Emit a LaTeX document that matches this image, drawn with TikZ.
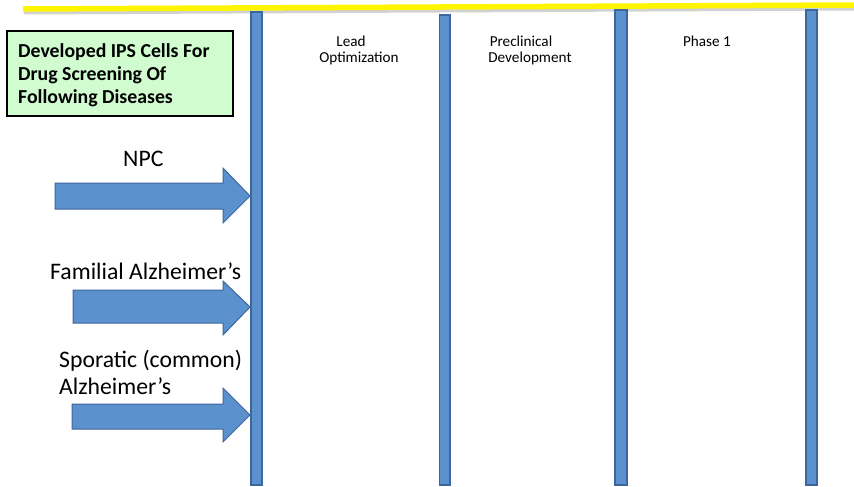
\documentclass[tikz,border=0pt]{standalone}
\usepackage{fontspec}
\setmainfont{Carlito}
\definecolor{barfill}{RGB}{91,145,204}
\definecolor{barline}{RGB}{62,102,158}
\definecolor{boxgreen}{RGB}{208,252,208}
\definecolor{hl}{RGB}{255,245,0}
\begin{document}
\begin{tikzpicture}[x=1pt,y=-1pt,
  bar/.style={fill=barfill,draw=barline,line width=1.2pt},
  blockarrow/.style={fill=barfill,draw=barline,line width=1pt,line join=miter},
  phase/.style={anchor=base,inner sep=0pt,font=\fontsize{15.2}{18}\selectfont},
  disease/.style={anchor=base west,inner sep=0pt,font=\fontsize{23.7}{28}\selectfont}]
\useasboundingbox (0,0) rectangle (854,487);
% yellow line with shadow
\draw[line width=5pt,black!18] (24,12) -- (856,8);
\draw[line width=5.5pt,hl] (23,9) -- (856,5);
% green box
\node[draw=black,line width=1.6pt,fill=boxgreen,minimum width=226pt,minimum height=85pt,inner sep=0pt] (box) at (120,73.5) {};
\node[anchor=base west,inner sep=0pt,align=left,font=\bfseries\fontsize{19.8}{23}\selectfont] (boxtext) at (18,103) {Developed IPS Cells For\\Drug Screening Of\\Following Diseases};
% bars
\draw[bar] (251,12) rectangle (262,485);
\draw[bar] (439.5,15) rectangle (450,485);
\draw[bar] (615,10) rectangle (627,485);
\draw[bar] (806,10) rectangle (817,485);
% phase labels
\node[phase] (lead) at (351,47) {Lead};
\node[phase] (opt) at (359,63) {Optimization};
\node[phase] (pre) at (521,47) {Preclinical};
\node[phase] (dev) at (530,63) {Development};
\node[phase] (ph1) at (707,47) {Phase 1};
% arrows
\draw[blockarrow] (55,183) -- (223,183) -- (223,168) -- (250,196) -- (223,223) -- (223,209) -- (55,209) -- cycle;
\draw[blockarrow] (73,290) -- (223,290) -- (223,281) -- (250,307) -- (223,335) -- (223,323) -- (73,323) -- cycle;
\draw[blockarrow] (72,404) -- (223,404) -- (223,388) -- (250,415) -- (223,442) -- (223,429) -- (72,429) -- cycle;
% disease labels
\node[disease] (npc) at (123,166) {NPC};
\node[disease] (fam) at (50,279) {Familial Alzheimer’s};
\node[disease] (spo) at (59,367) {Sporatic (common)};
\node[disease] (alz) at (59,394) {Alzheimer’s};
\end{tikzpicture}
\end{document}
